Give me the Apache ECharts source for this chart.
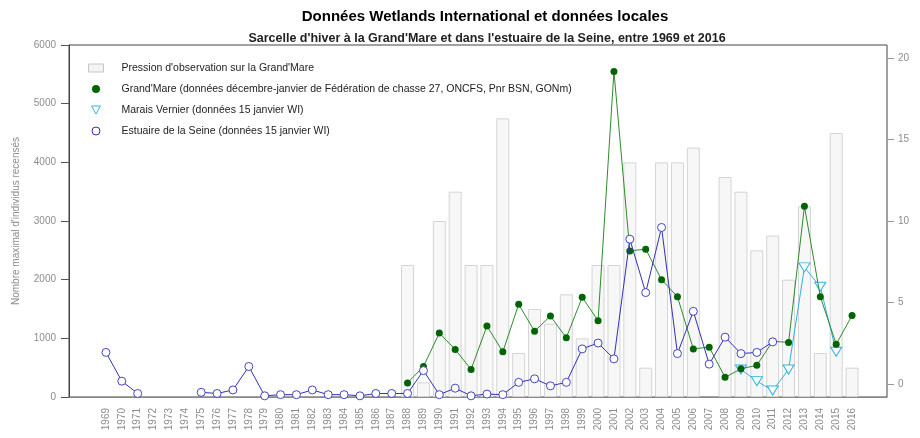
<!DOCTYPE html>
<html><head><meta charset="utf-8">
<script src="https://cdn.jsdelivr.net/npm/echarts@6/dist/echarts.min.js"></script>
<style>html,body{margin:0;padding:0;background:#fff}#c{width:920px;height:438px}</style>
</head><body><div id="c"></div>
<script>
const years = ['1969','1970','1971','1972','1973','1974','1975','1976','1977','1978','1979','1980','1981','1982','1983','1984','1985','1986','1987','1988','1989','1990','1991','1992','1993','1994','1995','1996','1997','1998','1999','2000','2001','2002','2003','2004','2005','2006','2007','2008','2009','2010','2011','2012','2013','2014','2015','2016'];
// Pression d'observation sur la Grand'Mare (bars)
const pression = [null,null,null,null,null,null,null,null,null,null,null,null,null,null,null,null,null,null,null,
  4.5,0.5,6,7,4.5,4.5,9.5,1.5,3,2.5,3.5,2,4.5,4.5,8,1,8,8,8.5,null,7.5,7,5,5.5,4,6.5,1.5,9,1];
// Grand'Mare
const grandMare = [null,null,null,null,null,null,null,null,null,null,null,null,null,null,null,null,null,null,null,
  240,520,1090,810,470,1210,770,1580,1120,1380,1010,1700,1300,5550,2490,2520,2000,1710,820,850,335,480,540,950,930,3250,1710,900,1390];
// Marais Vernier
const maraisVernier = [null,null,null,null,null,null,null,null,null,null,null,null,null,null,null,null,null,null,null,
  null,null,null,null,null,null,null,null,null,null,null,null,null,null,null,null,null,null,null,null,null,470,270,110,470,2210,1880,770,null];
// Estuaire de la Seine
const estuaire = [760,270,60,null,null,null,80,60,120,520,20,40,40,120,40,40,20,60,60,
  60,450,40,150,20,50,40,250,310,190,250,820,920,650,2690,1780,2890,740,1460,560,1020,740,760,940,null,null,null,null,null];
const leftTicks = [0,1000,2000,3000,4000,5000,6000];
const rightTicks = [0,5,10,15,20];

const names = ["Pression d'observation sur la Grand'Mare",
  "Grand'Mare (données décembre-janvier de Fédération de chasse 27, ONCFS, Pnr BSN, GONm)",
  "Marais Vernier (données 15 janvier WI)",
  "Estuaire de la Seine (données 15 janvier WI)"];

const F = '"Liberation Sans", Arial, sans-serif';
const GREEN = '#006400', GLINE = '#2f8a2f', CYAN = '#2cb4e2', BLUE = '#3131b8';
const chart = echarts.init(document.getElementById('c'));
chart.setOption({
  animation: false,
  backgroundColor: '#fff',
  title: [
    {text: 'Données Wetlands International et données locales', left: 480, top: 4, textAlign: 'center',
     textStyle: {fontFamily: F, fontSize: 15, fontWeight: 'bold', color: '#000'}},
    {text: "Sarcelle d'hiver à la Grand'Mare et dans l'estuaire de la Seine, entre 1969 et 2016", left: 482, top: 27, textAlign: 'center',
     textStyle: {fontFamily: F, fontSize: 12.5, fontWeight: 'bold', color: '#222'}}
  ],
  legend: {
    orient: 'vertical', left: 88, top: 62, padding: 0, itemGap: 9, itemWidth: 15, itemHeight: 8,
    textStyle: {fontFamily: F, fontSize: 10.5, lineHeight: 12, color: '#222', padding: [0,0,0,13]},
    selectedMode: false,
    data: [
      {name: names[0], icon: 'rect', itemStyle: {color: '#f4f4f4', borderColor: '#c8c8c8', borderWidth: 1}},
      {name: names[1], icon: 'circle', itemStyle: {color: GREEN}},
      {name: names[2], icon: 'path://M0,0L10,0L5,9Z', itemStyle: {color: 'rgba(0,0,0,0)', borderColor: CYAN, borderWidth: 1}},
      {name: names[3], icon: 'circle', itemStyle: {color: 'rgba(0,0,0,0)', borderColor: BLUE, borderWidth: 1}}
    ]
  },
  grid: [
    {left: 98, width: 762, top: 45, bottom: 41},
    {left: 69, right: 33, top: 45, bottom: 41, show: true, borderColor: '#444', borderWidth: 1, backgroundColor: 'rgba(0,0,0,0)'}
  ],
  xAxis: [
    {type: 'category', gridIndex: 0, data: years, boundaryGap: true,
     axisLine: {show: false}, axisTick: {show: false},
     axisLabel: {rotate: 90, margin: 11, fontFamily: F, fontSize: 10, color: '#8c8c8c', interval: 0}},
    {type: 'value', gridIndex: 1, min: 0, max: 1, axisLine: {show: true, lineStyle: {color: '#888'}},
     axisTick: {show: false}, axisLabel: {show: false}, splitLine: {show: false}}
  ],
  yAxis: [
    {type: 'value', gridIndex: 0, min: 0, max: 6000, show: false},
    {type: 'value', gridIndex: 0, min: 0, max: 12, show: false},
    {type: 'value', gridIndex: 1, position: 'left', min: 0, max: 6000, interval: 1000,
     name: "Nombre maximal d'individus recensés", nameLocation: 'middle', nameGap: 48,
     nameTextStyle: {fontFamily: F, fontSize: 10, color: '#8c8c8c'},
     axisLine: {show: true, lineStyle: {color: '#444'}},
     axisTick: {show: true, length: 8, lineStyle: {color: '#555'}},
     axisLabel: {fontFamily: F, fontSize: 10, color: '#8c8c8c', margin: 13, formatter: v => String(v)},
     splitLine: {show: false}},
    {type: 'value', gridIndex: 1, position: 'right', min: -0.8, max: 20.8,
     axisLine: {show: false},
     axisTick: {show: true, length: 7, lineStyle: {color: '#999'}, customValues: rightTicks},
     axisLabel: {fontFamily: F, fontSize: 10, color: '#8c8c8c', margin: 11, customValues: rightTicks},
     splitLine: {show: false}}
  ],
  series: [
    {name: names[0], type: 'bar', xAxisIndex: 0, yAxisIndex: 1, data: pression, barWidth: 13,
     itemStyle: {color: '#f7f7f7', borderColor: '#d4d4d4', borderWidth: 1}, z: 1},
    {name: names[1], type: 'line', xAxisIndex: 0, yAxisIndex: 0, data: grandMare, connectNulls: false,
     symbol: 'circle', symbolSize: 7, showAllSymbol: true,
     itemStyle: {color: GREEN}, lineStyle: {color: GLINE, width: 1}, z: 4},
    {name: names[2], type: 'line', xAxisIndex: 0, yAxisIndex: 0, data: maraisVernier,
     symbol: 'triangle', symbolRotate: 180, symbolSize: [11, 9], showAllSymbol: true,
     itemStyle: {color: '#fff', borderColor: CYAN, borderWidth: 1}, lineStyle: {color: CYAN, width: 1}, z: 3},
    {name: names[3], type: 'line', xAxisIndex: 0, yAxisIndex: 0, data: estuaire, connectNulls: false,
     symbol: 'circle', symbolSize: 8, showAllSymbol: true,
     itemStyle: {color: '#fff', borderColor: BLUE, borderWidth: 0.9}, lineStyle: {color: BLUE, width: 1}, z: 5}
  ]
});
</script>
</body></html>
